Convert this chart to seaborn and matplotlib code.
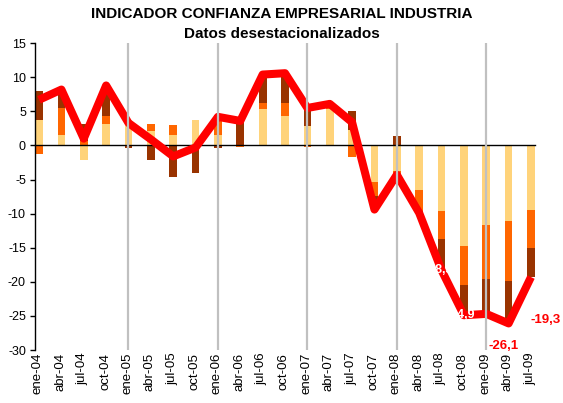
import numpy as np
import pandas as pd
import matplotlib
matplotlib.use("Agg")
import matplotlib.pyplot as plt
import seaborn as sns

categories = ['ene-04', 'abr-04', 'jul-04', 'oct-04',
              'ene-05', 'abr-05', 'jul-05', 'oct-05',
              'ene-06', 'abr-06', 'jul-06', 'oct-06',
              'ene-07', 'abr-07', 'jul-07', 'oct-07',
              'ene-08', 'abr-08', 'jul-08', 'oct-08',
              'ene-09', 'abr-09', 'jul-09']

serie_1 = [3.8, 1.5, -2.2, 3.1, 3.7, 2.1, 1.5, 3.8, 1.5, 0.0, 5.4, 4.25,
           2.9, 5.4, 2.3, -5.4, -3.8, -6.6, -9.6, -14.8, -11.7, -11.1, -9.4]
serie_2 = [-1.3, 4.0, 0.7, 1.2, 0.0, 1.0, 1.5, 0.0, 3.0, -0.2, 0.9, 2.0,
           -0.2, 0.3, -1.7, -2.05, -1.9, -3.0, -4.1, -5.6, -7.9, -8.85, -5.6]
serie_3 = [4.2, 2.7, 2.5, 4.5, -0.4, -2.2, -4.6, -4.1, -0.3, 3.8, 4.1, 4.35,
           2.8, 0.4, 2.8, -1.95, 1.4, -0.3, -4.6, -4.5, -5.1, -6.15, -4.3]
indicador = [6.7, 8.2, 1.0, 8.8, 3.3, 0.9, -1.6, -0.3, 4.2, 3.6, 10.4, 10.6,
             5.5, 6.1, 3.4, -9.4, -4.3, -9.9, -18.3, -24.9, -24.7, -26.1, -19.3]

y_ticks = [-30, -25, -20, -15, -10, -5, 0, 5, 10, 15]
red_labels = {21: '-26,1', 22: '-19,3'}
white_labels = {18: '-18,3', 19: '-24,9'}
year_starts = ['ene-05', 'ene-06', 'ene-07', 'ene-08', 'ene-09']

colors = ['#FFD37A', '#FF6600', '#993300']

sns.set_style("white")
plt.rcParams['font.family'] = ['Liberation Sans', 'DejaVu Sans']
plt.rcParams['text.color'] = 'black'
plt.rcParams['xtick.color'] = 'black'
plt.rcParams['ytick.color'] = 'black'
plt.rcParams['xtick.labelcolor'] = 'black'
plt.rcParams['ytick.labelcolor'] = 'black'
plt.rcParams['axes.edgecolor'] = 'black'

fig = plt.figure(figsize=(5.63, 4.03), dpi=100)
ax = fig.add_axes([0.0622, 0.1315, 0.8881, 0.7613])

n = len(categories)
pos = np.arange(n)
pos_cum = np.zeros(n)
neg_cum = np.zeros(n)
for vals, col in zip([serie_1, serie_2, serie_3], colors):
    v = np.array(vals, dtype=float)
    bottom = np.where(v >= 0, pos_cum, neg_cum)
    df = pd.DataFrame({'cat': categories, 'val': v})
    sns.barplot(data=df, x='cat', y='val', order=categories, color=col,
                saturation=1, width=0.345, bottom=bottom, ax=ax,
                linewidth=0, edgecolor='none', errorbar=None, zorder=2)
    pos_cum = pos_cum + np.where(v >= 0, v, 0)
    neg_cum = neg_cum + np.where(v < 0, v, 0)

sns.lineplot(x=pos, y=indicador, color='#FF0000', lw=5.8, ax=ax, zorder=4,
             solid_joinstyle='round', solid_capstyle='butt')

for c in year_starts:
    ax.axvline(categories.index(c), color='#C0C0C0', lw=1.6, zorder=6)

for i, t in red_labels.items():
    if i == 21:
        ax.annotate(t, (i, indicador[i]), xytext=(-3.6, -16.6), textcoords='offset points',
                    ha='center', va='center', color='#FF0000', fontsize=9.5,
                    fontweight='bold', zorder=7)
    else:
        ax.annotate(t, (i, indicador[i]), xytext=(0, -31), textcoords='offset points',
                    ha='left', va='center', color='#FF0000', fontsize=9.5,
                    fontweight='bold', zorder=7)
for i, t in white_labels.items():
    ax.annotate(t, (i, indicador[i]), xytext=(-2, 0), textcoords='offset points',
                ha='center', va='center', color='white', fontsize=9,
                fontweight='bold', zorder=5)

ax.set_xlim(-0.18, n - 1 + 0.18)
ax.set_ylim(-30, 15)
ax.set_yticks(y_ticks)
ax.set_yticklabels([str(t) for t in y_ticks])
ax.set_xlabel('')
ax.set_ylabel('')

ax.spines['top'].set_visible(False)
ax.spines['right'].set_visible(False)
ax.spines['left'].set_color('black')
ax.spines['left'].set_linewidth(1.0)
ax.spines['bottom'].set_position(('data', 0))
ax.spines['bottom'].set_color('black')
ax.spines['bottom'].set_linewidth(1.0)
ax.spines['bottom'].set_zorder(3)

ax.set_xticks(pos - 0.18)
ax.set_xticklabels([''] * n)
ax.tick_params(axis='x', direction='out', length=3, width=1, color='black',
               labelbottom=False)
ax.tick_params(axis='y', direction='out', length=3.5, width=1, color='black',
               labelsize=9, pad=3, left=True, labelcolor='black')

sec = ax.secondary_xaxis(0.0)
sec.set_xticks(pos - 0.05)
sec.set_xticklabels(categories)
sec.tick_params(length=0, labelsize=9.5, labelrotation=90, pad=2, labelcolor='black')
sec.spines['bottom'].set_visible(False)

fig.text(0.5, 1 - 13.5 / 403, 'INDICADOR CONFIANZA EMPRESARIAL INDUSTRIA',
         ha='center', va='center', fontsize=11, fontweight='bold', color='black')
fig.text(0.5, 1 - 34 / 403, 'Datos desestacionalizados',
         ha='center', va='center', fontsize=11, fontweight='bold', color='black')

fig.savefig('out.png', dpi=100, facecolor='white')
